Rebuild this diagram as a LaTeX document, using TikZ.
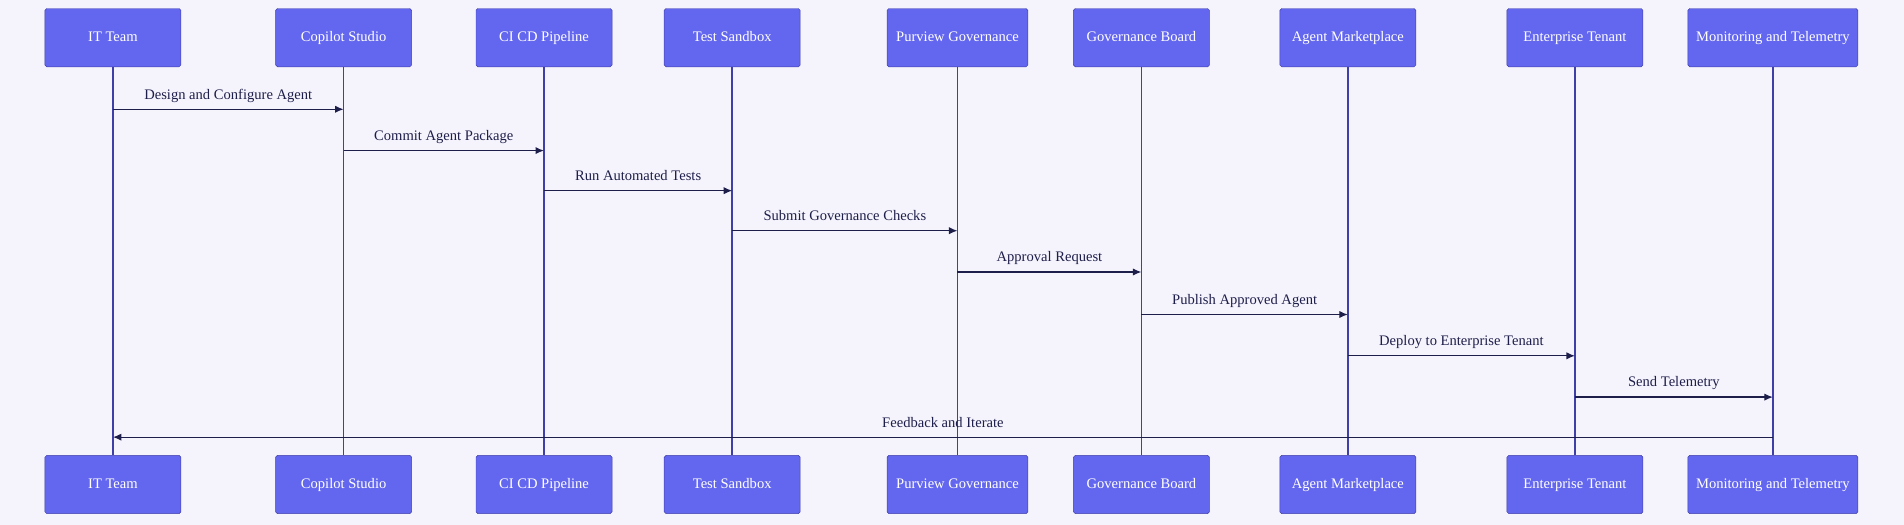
\documentclass[tikz,border=0pt]{standalone}
\usepackage{fontspec}
\setmainfont{Liberation Serif}
\usetikzlibrary{arrows.meta}
\definecolor{bg}{HTML}{F5F4FD}
\definecolor{boxf}{HTML}{6366EE}
\definecolor{boxd}{HTML}{3F3FA8}
\definecolor{life}{HTML}{3F3FA8}
\definecolor{msg}{HTML}{1E1E4A}
\begin{document}
\begin{tikzpicture}[x=1pt,y=-1pt,
  actor/.style={draw=boxd,fill=boxf,rounded corners=1.5pt,minimum height=48pt,text=white,font=\fontsize{12}{14}\selectfont,inner sep=0pt,text height=8.5pt,text depth=2.5pt},
  lifeline/.style={draw=life,line width=1.2pt},
  msgline/.style={draw=msg,line width=1pt,-{Latex[length=7pt,width=6pt]}},
  lbl/.style={font=\fontsize{12}{14}\selectfont,text=msg,above=2pt,text height=8.5pt,text depth=2.5pt}]
\fill[bg] (0,0) rectangle (1568,432);
\useasboundingbox (0,0) rectangle (1568,432);
\foreach \n/\x/\w/\t in {a/93/112/IT Team,b/283/112/Copilot Studio,c/448/112/CI CD Pipeline,d/603/112/Test Sandbox,e/788.5/116/Purview Governance,f/940/112/Governance Board,g/1110/112/Agent Marketplace,h/1297/112/Enterprise Tenant,i/1460/140/Monitoring and Telemetry}{
  \node[actor,minimum width=\w pt] (\n t) at (\x,31) {\t};
  \node[actor,minimum width=\w pt] (\n b) at (\x,399) {\t};
  \draw[lifeline] (\n t.south) -- (\n b.north);
}
\foreach \s/\d/\y/\t in {a/b/90/Design and Configure Agent,b/c/124/Commit Agent Package,c/d/157/Run Automated Tests,d/e/190/Submit Governance Checks,e/f/224/Approval Request,f/g/259/Publish Approved Agent,g/h/293/Deploy to Enterprise Tenant,h/i/327/Send Telemetry,i/a/360/Feedback and Iterate}{
  \coordinate (s) at (\s t |- 0,\y);
  \coordinate (e) at (\d t |- 0,\y);
  \draw[msgline] (s) -- (e) node[midway,lbl] {\t};
}
\end{tikzpicture}
\end{document}
